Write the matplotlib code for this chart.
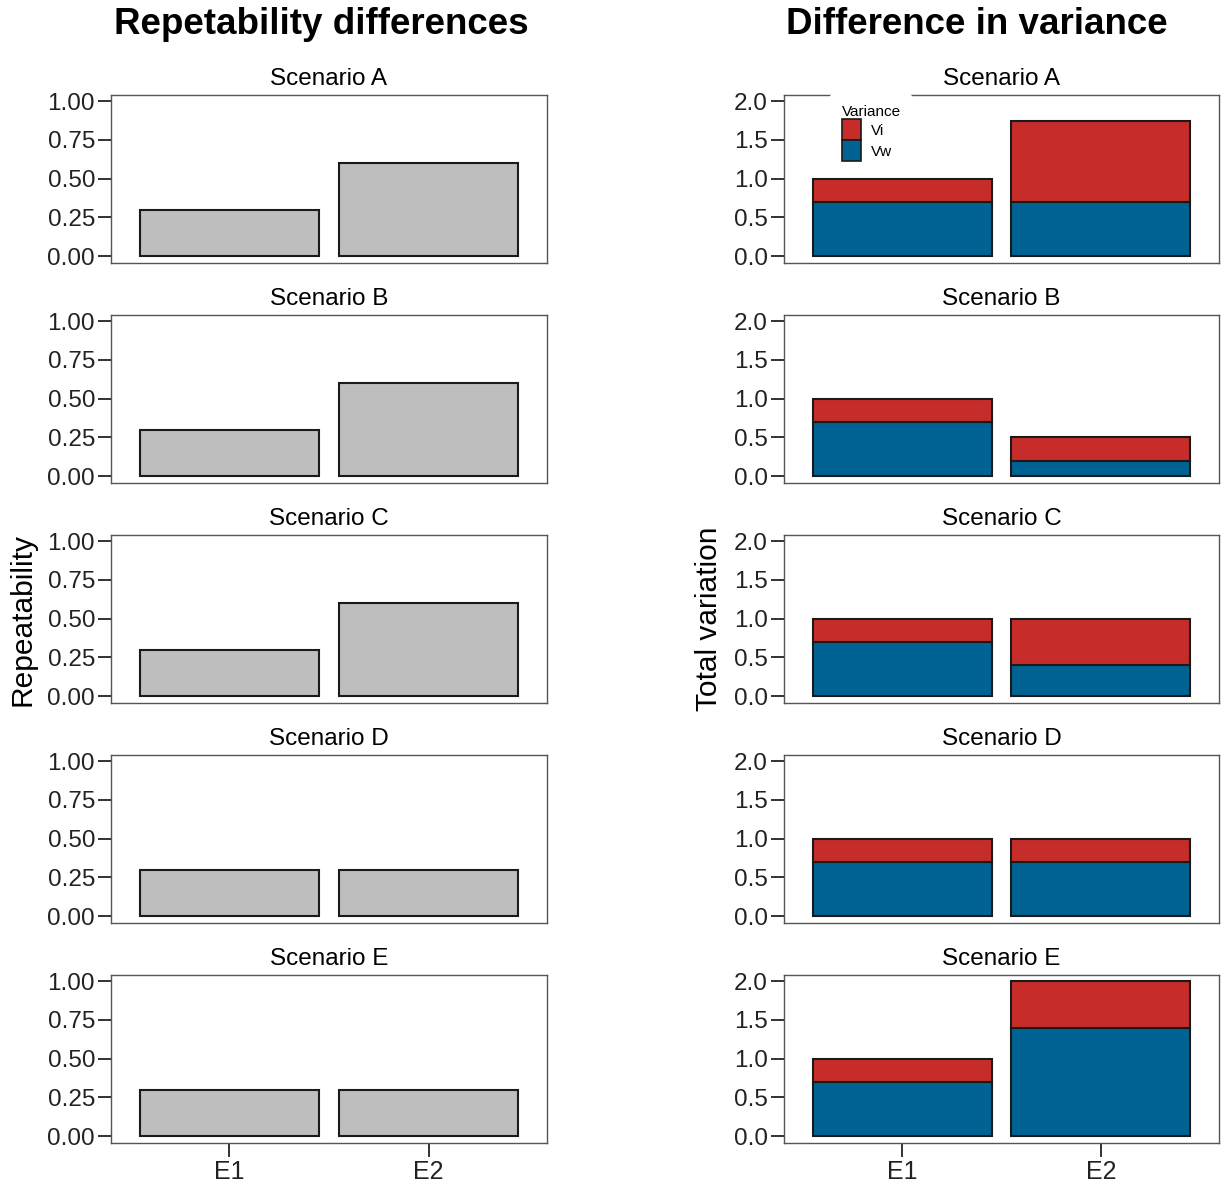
import numpy as np
import matplotlib
matplotlib.use("Agg")
import matplotlib.pyplot as plt
from matplotlib.patches import Patch

plt.rcParams['font.family'] = ['Liberation Sans', 'DejaVu Sans']

# data
scenarios = ['Scenario A', 'Scenario B', 'Scenario C', 'Scenario D', 'Scenario E']
environments = ['E1', 'E2']

repeatability = [
    [0.3, 0.6],
    [0.3, 0.6],
    [0.3, 0.6],
    [0.3, 0.3],
    [0.3, 0.3],
]

# within-individual (Vw) and among-individual (Vi) variance
vw = [
    [0.7, 0.7],
    [0.7, 0.2],
    [0.7, 0.4],
    [0.7, 0.7],
    [0.7, 1.4],
]
vi = [
    [0.3, 1.05],
    [0.3, 0.3],
    [0.3, 0.6],
    [0.3, 0.3],
    [0.3, 0.6],
]

grey = '#bebebe'
red = '#c62d2a'
blue = '#006394'
spine_col = '#555555'

W, H = 1225, 1183
fig = plt.figure(figsize=(W / 100, H / 100), dpi=100)

x = np.arange(len(environments))


def style_axes(ax, yticks, fmt, last):
    ax.set_xlim(-0.595, 1.595)
    ax.set_yticks(yticks)
    ax.set_yticklabels([fmt.format(v) for v in yticks])
    ax.tick_params(axis='y', direction='out', length=9.5, width=1.3,
                   labelsize=17.5, pad=2, colors='#222222')
    for s in ax.spines.values():
        s.set_color(spine_col)
        s.set_linewidth(1.0)
    if last:
        ax.set_xticks(x)
        ax.set_xticklabels(environments)
        ax.tick_params(axis='x', direction='out', length=10, width=1.3,
                       labelsize=18, pad=2, colors='#222222')
    else:
        ax.set_xticks([])


for i, name in enumerate(scenarios):
    top = 95 + 220 * i
    bottom = 1 - (top + 168) / H

    # repeatability panel
    ax = fig.add_axes([111 / W, bottom, 436 / W, 168 / H])
    ax.bar(x, repeatability[i], width=0.9, color=grey, edgecolor='#1a1a1a',
           linewidth=1.5)
    ax.set_ylim(-0.045, 1.04)
    style_axes(ax, [0, 0.25, 0.5, 0.75, 1.0], '{:.2f}', i == len(scenarios) - 1)
    ax.set_title(name, fontsize=17.5, pad=7)

    # variance panel
    ax2 = fig.add_axes([784 / W, bottom, 435 / W, 168 / H])
    ax2.bar(x, vw[i], width=0.9, color=blue, edgecolor='#1a1a1a', linewidth=1.5)
    ax2.bar(x, vi[i], bottom=vw[i], width=0.9, color=red, edgecolor='#1a1a1a',
            linewidth=1.5)
    ax2.set_ylim(-0.09, 2.08)
    style_axes(ax2, [0, 0.5, 1.0, 1.5, 2.0], '{:.1f}', i == len(scenarios) - 1)
    ax2.set_title(name, fontsize=17.5, pad=7)

    if i == 0:
        handles = [Patch(facecolor=red, edgecolor='#1a1a1a', linewidth=1.2),
                   Patch(facecolor=blue, edgecolor='#1a1a1a', linewidth=1.2)]
        leg = ax2.legend(handles, ['Vi', 'Vw'], title='Variance',
                         loc='upper left', bbox_to_anchor=(0.106, 1.008),
                         fontsize=11, title_fontsize=11, frameon=True,
                         handlelength=1.3, handleheight=1.75, labelspacing=0.0,
                         handletextpad=0.6, borderpad=0.75, borderaxespad=0)
        leg.get_frame().set_facecolor('white')
        leg.get_frame().set_edgecolor('none')
        leg.get_frame().set_alpha(1)
        leg._legend_box.align = 'left'

fig.text(321 / W, 1 - 24 / H, 'Repetability differences', ha='center',
         va='center', fontsize=26.5, fontweight='bold')
fig.text(977 / W, 1 - 24 / H, 'Difference in variance', ha='center',
         va='center', fontsize=26.5, fontweight='bold')
fig.text(23 / W, 1 - 619 / H, 'Repeatability', rotation=90, ha='center',
         va='center', fontsize=21.5)
fig.text(709 / W, 1 - 619 / H, 'Total variation', rotation=90, ha='center',
         va='center', fontsize=21.5)

fig.savefig('out.png', dpi=100)
